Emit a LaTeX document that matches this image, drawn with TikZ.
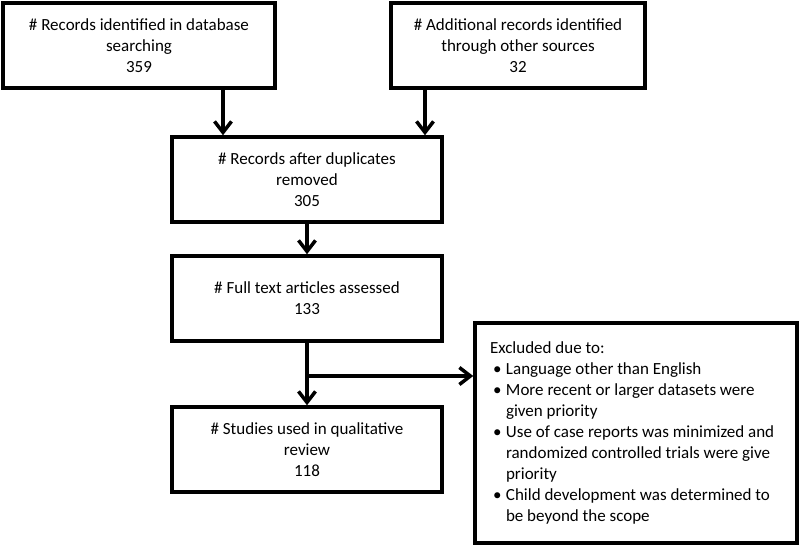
\documentclass[tikz,border=0pt]{standalone}
\usepackage{fontspec}
\setmainfont{Carlito}
\usepackage{tikz}
\usetikzlibrary{arrows.meta}
\usetikzlibrary{positioning}
\tikzset{
    flowbox/.style = {rectangle, draw=black, line width=3.5pt, align=center, inner sep=0pt, minimum width=270pt, minimum height=85pt},
    flowarr/.style = {-{Straight Barb[length=11pt,width=17pt,line width=3.5pt]}, line width=3.5pt},
}
\newcommand{\bitem}[1]{\par\noindent\hangindent=16pt\hangafter=1\hbox to 16pt{\hskip3pt\textbullet\hfil}#1}

\begin{document}
\begin{tikzpicture}[
	x=1pt,
	y=-1pt,
	font=\fontsize{17}{21}\selectfont
]
\useasboundingbox (0,0) rectangle (800,546);
\node[flowbox, minimum width=272pt] at (139,45.5) (db) {\# Records identified in database\\searching\\359};
\node[flowbox, minimum width=254pt] at (518,45.5) (other) {\# Additional records identified\\through other sources\\32};
\node[flowbox] at (307,179.5) (dup) {\# Records after duplicates\\removed\\305};
\node[flowbox] at (307,298.5) (full) {\# Full text articles assessed\\133};
\node[flowbox] at (307,449.5) (study) {\# Studies used in qualitative\\review\\118};
\node[flowbox, minimum width=322pt, minimum height=220pt, align=left] at (636,433) (excl) {%
\begin{minipage}{292pt}
\noindent Excluded due to:
\bitem{Language other than English}
\bitem{More recent or larger datasets were\\given priority}
\bitem{Use of case reports was minimized and\\randomized controlled trials were give\\priority}
\bitem{Child development was determined to\\be beyond the scope}
\end{minipage}};
%
\coordinate (splitin) at ([yshift=57pt]excl.west);
%
\draw[flowarr] ([xshift=84pt]db.south) -- ([xshift=84pt]db.south |- dup.north);
\draw[flowarr] ([xshift=-93pt]other.south) -- ([xshift=-93pt]other.south |- dup.north);
\draw[flowarr] (dup) -- (full);
\draw[flowarr] (full) -- (study);
\draw[flowarr] (full.south |- splitin) -- (splitin);
\end{tikzpicture}
\end{document}
